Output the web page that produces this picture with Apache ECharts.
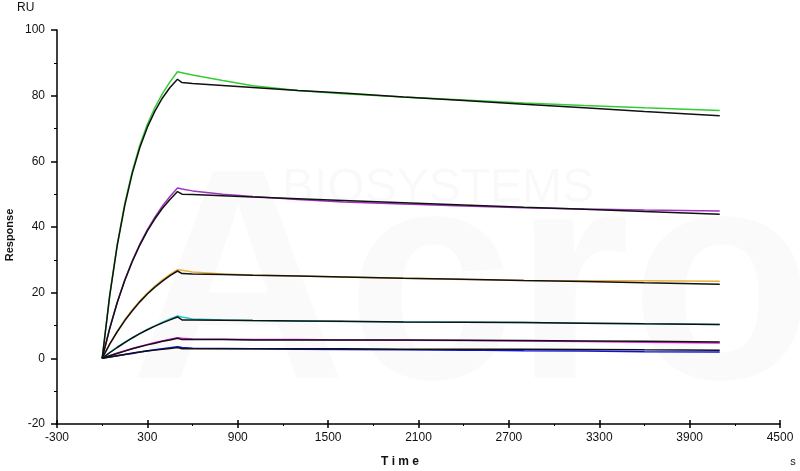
<!DOCTYPE html>
<html>
<head>
<meta charset="utf-8">
<script src="https://cdn.jsdelivr.net/npm/echarts@6/dist/echarts.min.js"></script>
<style>html,body{margin:0;padding:0;background:#fff}#c{width:800px;height:471px}</style>
</head>
<body>
<div id="c"></div>
<script>
// Time points (s)
const times = [0,50,100,150,200,250,300,350,400,450,500,530,600,800,1000,1300,1600,2000,2400,2800,3200,3600,4100];
// Measured responses (RU)
const green   = [0,19.3,34.8,47.2,57.0,65.0,71.3,76.4,80.6,84.2,87.3,87.0,86.3,84.6,83.0,81.6,80.6,79.6,78.7,77.8,77.0,76.3,75.5];
const purple  = [0,9.2,17.1,23.9,29.7,34.8,39.2,43.0,46.4,49.3,51.9,51.6,51.0,50.0,49.3,48.4,47.6,47.0,46.4,45.9,45.5,45.2,44.9];
const orange  = [0,4.4,8.3,11.8,14.8,17.5,19.9,22.0,23.9,25.6,27.0,26.8,26.3,25.7,25.4,25.1,24.8,24.4,24.0,23.7,23.6,23.6,23.5];
const cyan    = [0,1.8,3.4,4.9,6.3,7.6,8.8,9.9,11.0,12.0,12.9,12.6,12.0,11.7,11.5,11.4,11.2,11.1,11.0,10.9,10.7,10.5,10.3];
const magenta = [0,0.8,1.6,2.3,3.0,3.6,4.2,4.8,5.3,5.8,6.3,6.1,5.9,5.8,5.7,5.7,5.6,5.5,5.4,5.3,5.1,4.9,4.7];
const blue    = [0,0.4,0.8,1.2,1.6,1.9,2.3,2.6,2.9,3.2,3.5,3.3,3.1,3.0,2.9,2.8,2.7,2.6,2.5,2.3,2.2,2.0,1.9];
// Fitted curves (RU)
const fit1 = [0,19.1,34.4,46.6,56.4,64.2,70.4,75.3,79.3,82.5,85.0,84.0,83.7,83.1,82.5,81.6,80.8,79.6,78.5,77.4,76.3,75.2,73.9];
const fit2 = [0,9.1,17.0,23.7,29.5,34.5,38.8,42.5,45.7,48.4,50.8,50.0,49.9,49.5,49.1,48.6,48.1,47.4,46.7,46.0,45.4,44.7,43.9];
const fit3 = [0,4.3,8.1,11.5,14.5,17.2,19.6,21.7,23.5,25.2,26.6,25.8,25.7,25.5,25.3,25.1,24.8,24.4,24.1,23.7,23.4,23.0,22.6];
const fit4 = [0,1.7,3.3,4.8,6.2,7.5,8.7,9.8,10.8,11.7,12.6,11.7,11.7,11.6,11.5,11.4,11.3,11.1,11.0,10.9,10.7,10.5,10.3];
const fit5 = [0,0.8,1.5,2.2,2.9,3.5,4.1,4.6,5.2,5.6,6.1,5.7,5.7,5.7,5.6,5.6,5.6,5.6,5.5,5.4,5.3,5.2,5.0];
const fit6 = [0,0.4,0.8,1.2,1.5,1.9,2.2,2.5,2.8,3.0,3.3,2.9,2.9,2.9,2.9,2.9,2.9,2.8,2.8,2.8,2.7,2.6,2.5];
// Axis ticks
const xTicks = {min: -300, max: 4500, step: 600};
const yTicks = {min: -20, max: 100, step: 20};

const measured = [
  {d: green, c: '#33cc33'},
  {d: purple, c: '#a033c0'},
  {d: orange, c: '#e8b040'},
  {d: cyan, c: '#22c8c8'},
  {d: magenta, c: '#e020e0'},
  {d: blue, c: '#1010dd'}
];
const fits = [fit1, fit2, fit3, fit4, fit5, fit6];
const pair = arr => times.map((t, i) => [t, arr[i]]);

const series = [];
measured.forEach(m => series.push({
  type: 'line', data: pair(m.d), showSymbol: false, silent: true,
  lineStyle: {color: m.c, width: 1.5}, z: 2
}));
fits.forEach(f => series.push({
  type: 'line', data: pair(f), showSymbol: false, silent: true,
  lineStyle: {color: '#111', width: 1.5}, z: 3
}));

const font = 'Liberation Sans, Arial, sans-serif';
const chart = echarts.init(document.getElementById('c'), null, {renderer: 'canvas'});
chart.setOption({
  animation: false,
  backgroundColor: '#fff',
  grid: {left: 57, right: 20, top: 30, bottom: 47, containLabel: false},
  xAxis: [{
    type: 'value', min: xTicks.min, max: xTicks.max, interval: xTicks.step,
    axisLine: {show: true, onZero: false, lineStyle: {color: '#000', width: 1.5}},
    axisTick: {show: true, length: 4, lineStyle: {color: '#000', width: 1.5}},
    minorTick: {show: true, splitNumber: 2, length: 2, lineStyle: {color: '#000'}},
    axisLabel: {color: '#111', fontSize: 12, fontFamily: font, margin: 8, formatter: v => String(v)},
    splitLine: {show: false}
  }, {
    type: 'value', min: xTicks.min, max: xTicks.max, interval: xTicks.step, position: 'bottom',
    axisLine: {show: false, onZero: false},
    axisTick: {show: true, inside: true, length: 4, lineStyle: {color: '#000', width: 1.5}},
    axisLabel: {show: false}, splitLine: {show: false}
  }],
  yAxis: {
    type: 'value', min: yTicks.min, max: yTicks.max, interval: yTicks.step,
    axisLine: {show: true, onZero: false, lineStyle: {color: '#000', width: 1.5}},
    axisTick: {show: true, length: 6, lineStyle: {color: '#000', width: 1.5}},
    minorTick: {show: true, splitNumber: 2, length: 3, lineStyle: {color: '#000'}},
    axisLabel: {color: '#111', fontSize: 12, fontFamily: font, margin: 12, formatter: v => String(v)},
    splitLine: {show: false}
  },
  graphic: [
    {type: 'text', left: 282, top: 165, z: 0, silent: true,
     style: {text: 'BIOSYSTEMS', fill: 'rgba(0,0,0,0.025)', font: '48px ' + font}},
    {type: 'text', left: 130, top: 145, z: 0, silent: true,
     style: {text: 'Acro', fill: 'rgba(0,0,0,0.018)', font: 'bold 300px ' + font}},
    {type: 'text', left: 17, top: 2, style: {text: 'RU', fill: '#111', font: '12px ' + font}},
    {type: 'text', x: 10, y: 235, rotation: Math.PI / 2,
     style: {text: 'Response', fill: '#111', font: 'bold 11px ' + font, align: 'center', verticalAlign: 'middle'}},
    {type: 'text', x: 400, y: 462,
     style: {text: 'T i m e', fill: '#111', font: 'bold 12px ' + font, align: 'center', verticalAlign: 'middle'}},
    {type: 'text', x: 793, y: 462,
     style: {text: 's', fill: '#111', font: '11px ' + font, align: 'center', verticalAlign: 'middle'}}
  ],
  series: series
});
</script>
</body>
</html>
